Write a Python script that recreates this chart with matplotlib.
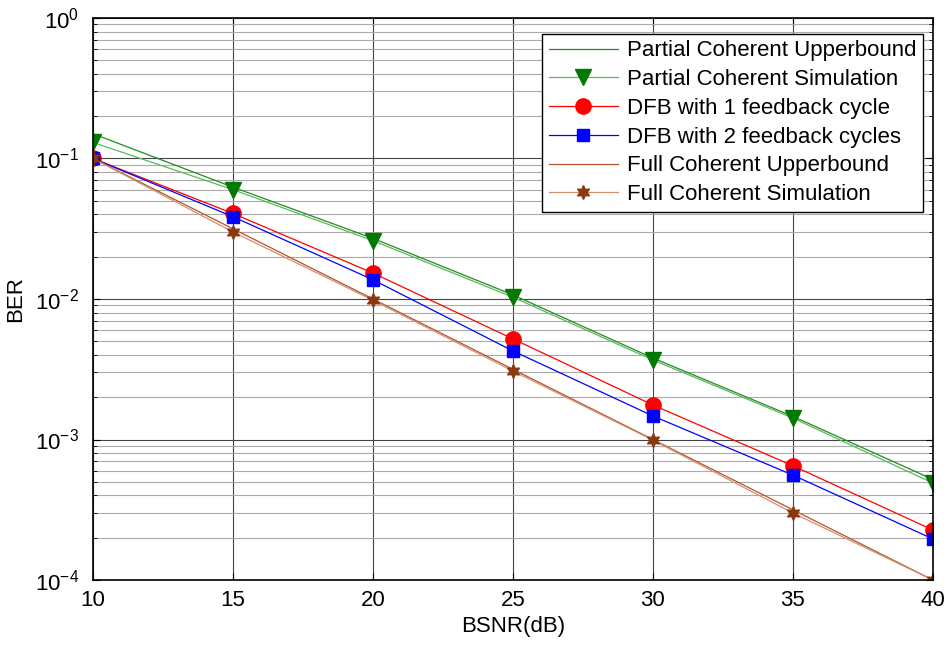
import matplotlib
matplotlib.use("Agg")
import matplotlib.pyplot as plt
import numpy as np

plt.rcParams['font.family'] = ['Liberation Sans', 'DejaVu Sans']
plt.rcParams['mathtext.fontset'] = 'custom'
plt.rcParams['mathtext.rm'] = 'Liberation Sans'
plt.rcParams['mathtext.it'] = 'Liberation Sans'
plt.rcParams['mathtext.default'] = 'regular'

bsnr = [10, 15, 20, 25, 30, 35, 40]

partial_ub = [0.150, 0.0625, 0.0270, 0.0107, 0.0038, 0.00146, 0.00052]
partial_sim = [0.130, 0.0600, 0.0260, 0.0103, 0.00368, 0.00142, 0.00049]
dfb1 = [0.100, 0.0406, 0.0153, 0.0052, 0.00176, 0.00065, 0.000227]
dfb2 = [0.100, 0.0385, 0.0137, 0.00427, 0.00147, 0.000558, 0.000196]
full_ub = [0.100, 0.0316, 0.0100, 0.00316, 0.00100, 0.000316, 0.000100]
full_sim = [0.100, 0.0300, 0.0098, 0.00307, 0.00099, 0.000300, 0.000100]

fig = plt.figure(figsize=(9.49, 6.49), dpi=100)
ax = fig.add_axes([0.098, 0.1063, 0.885, 0.866])

ax.semilogy(bsnr, partial_ub, color='#228B22', lw=0.9, label='Partial Coherent Upperbound')
ax.semilogy(bsnr, partial_sim, color='#5cb85c', lw=0.9, marker='v', ms=11,
            mfc='#007a00', mec='#007a00', label='Partial Coherent Simulation')
ax.semilogy(bsnr, dfb1, color='red', lw=0.9, marker='o', ms=11,
            mfc='red', mec='red', label='DFB with 1 feedback cycle')
ax.semilogy(bsnr, dfb2, color='blue', lw=0.9, marker='s', ms=8,
            mfc='blue', mec='blue', label='DFB with 2 feedback cycles')
ax.semilogy(bsnr, full_ub, color='#b5532a', lw=0.9, label='Full Coherent Upperbound')
ax.semilogy(bsnr, full_sim, color='#d2906e', lw=0.9, marker=(6, 1, 0), ms=10,
            mfc='#8b3a0f', mec='#8b3a0f', label='Full Coherent Simulation')

ax.set_xlim(10, 40)
ax.set_ylim(1e-4, 1)
ax.set_xticks([10, 15, 20, 25, 30, 35, 40])
ax.grid(True, which='major', color='#444444', lw=0.8)
ax.grid(True, which='minor', axis='y', color='#aaaaaa', lw=0.8)
ax.tick_params(which='both', direction='in', top=True, right=True, labelsize=16)
ax.tick_params(axis='x', pad=7)
ax.tick_params(axis='y', pad=10)
ax.tick_params(which='major', length=5)
ax.tick_params(which='minor', length=3)
for s in ax.spines.values():
    s.set_linewidth(1.2)

ax.set_xlabel('BSNR(dB)', fontsize=16, labelpad=4)
ax.set_ylabel('BER', fontsize=16, labelpad=6)

leg = ax.legend(loc='upper right', bbox_to_anchor=(0.988, 0.972), fontsize=16,
                fancybox=False, edgecolor='black', framealpha=1,
                handlelength=3.1, borderpad=0.3, labelspacing=0.35,
                handletextpad=0.4, borderaxespad=0)
leg.get_frame().set_linewidth(1.0)

fig.savefig('out.png', dpi=100)
